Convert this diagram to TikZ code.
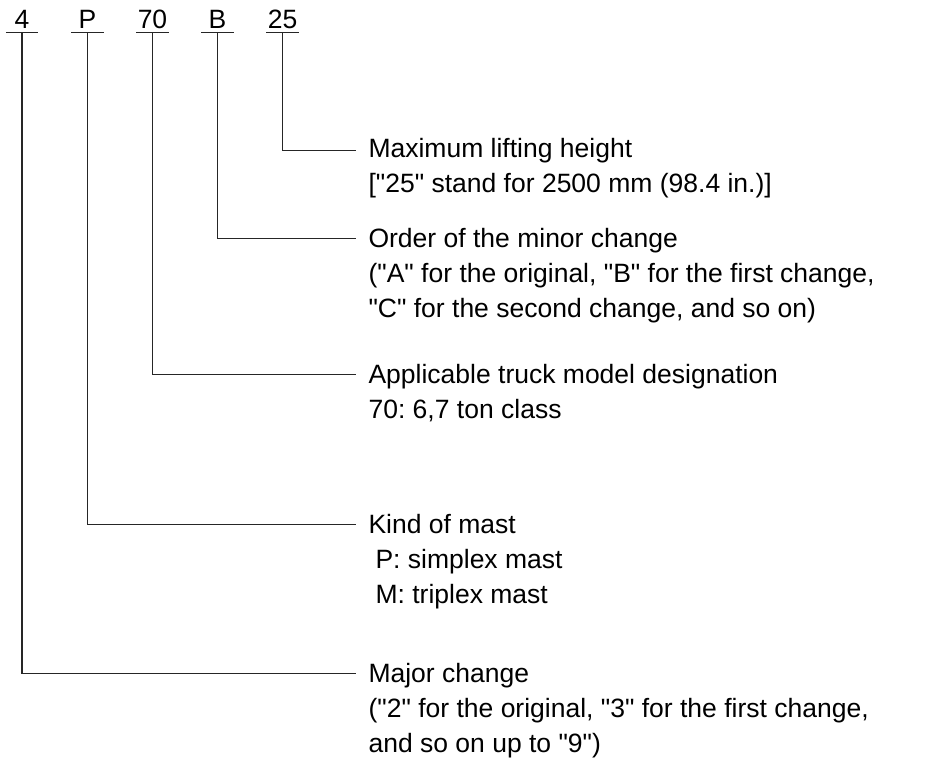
\documentclass[tikz,border=0pt]{standalone}
\usepackage{fontspec}
\setmainfont{Liberation Sans}[Ligatures=TeXOff]
\usepackage{tikz}
\usetikzlibrary{positioning,calc}
\frenchspacing

\begin{document}
\begin{tikzpicture}[x=1pt, y=-1pt, line width=1.1pt, draw=black!85,
    code/.style={inner sep=0pt, minimum width=31pt, text depth=3pt, anchor=base,
        font=\fontsize{26.5}{35}\selectfont},
    desc/.style={inner sep=0pt, anchor=base west, align=left,
        font=\fontsize{26.5}{35}\selectfont}]
    \useasboundingbox (0,0) rectangle (933,757);

    % model code
    \node[code] (c4) at (22,29) {4};
    \node[code] (cP) at (87.5,29) {P};
    \node[code] (c70) at (152.5,29) {70};
    \node[code] (cB) at (217.5,29) {B};
    \node[code] (c25) at (282.5,29) {25};
    \foreach \c in {c4,cP,c70,cB,c25}
        \draw (\c.south west) -- (\c.south east);

    % meaning of each part (placed by the baseline of the last line)
    \node[desc] (d25) at (368,192) {Maximum lifting height\\{[}"25" stand for 2500 mm (98.4 in.)]};
    \node[desc] (dB) at (368,317) {Order of the minor change\\("A" for the original, "B" for the first change,\\"C" for the second change, and so on)};
    \node[desc] (d70) at (368,418) {Applicable truck model designation\\70: 6,7 ton class};
    \node[desc] (dP) at (368,603) {Kind of mast\\\hspace*{7pt}P: simplex mast\\\hspace*{7pt}M: triplex mast};
    \node[desc] (d4) at (368,752) {Major change\\("2" for the original, "3" for the first change,\\and so on up to "9")};

    \draw (c25.south) |- ([xshift=-12pt,yshift=-13pt]d25.north west);
    \draw (cB.south) |- ([xshift=-12pt,yshift=-11pt]dB.north west);
    \draw (c70.south) |- ([xshift=-12pt,yshift=-11pt]d70.north west);
    \draw (cP.south) |- ([xshift=-12pt,yshift=-11.5pt]dP.north west);
    \draw (c4.south) |- ([xshift=-12pt,yshift=-11pt]d4.north west);
\end{tikzpicture}
\end{document}
